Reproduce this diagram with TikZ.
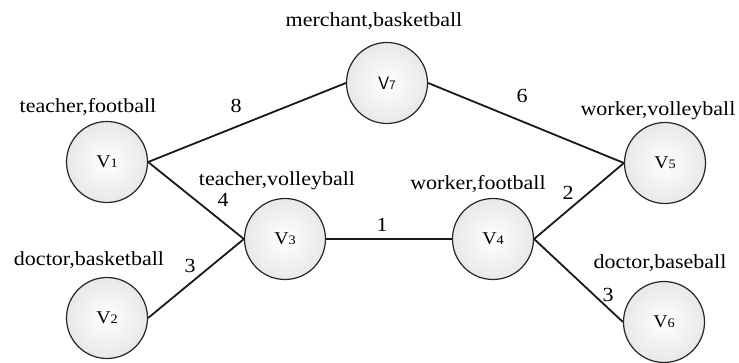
\documentclass[tikz,border=0pt]{standalone}
\usepackage{fontspec}
\setmainfont[FakeStretch=1.1]{Liberation Serif}
\begin{document}
\begin{tikzpicture}[x=1pt,y=-1pt,
  vtx/.style={circle,draw=black!85,line width=1.2pt,minimum size=81pt,inner sep=0pt,
    shade,inner color=white,outer color=black!9,font=\fontsize{18}{18}\selectfont},
  lab/.style={font=\fontsize{20}{20}\selectfont,inner sep=0pt,anchor=base},
  edge/.style={line width=1.8pt,black!90},
  wt/.style={font=\fontsize{20}{20}\selectfont,inner sep=0pt,anchor=base}]
\useasboundingbox (0,0) rectangle (739,363);
\newcommand{\dg}[1]{{\fontsize{13}{13}\selectfont #1}}
\node[vtx] (v1) at (107,162) {V\dg{1}};
\node[vtx] (v2) at (107,318) {V\dg{2}};
\node[vtx] (v3) at (285,239) {V\dg{3}};
\node[vtx] (v4) at (493,239) {V\dg{4}};
\node[vtx] (v5) at (665,163) {V\dg{5}};
\node[vtx] (v6) at (664,322) {V\dg{6}};
\node[vtx] (v7) at (387,83) {\sffamily V\dg{7}};
\draw[edge] (v1.east) -- (v7.west);
\draw[edge] (v7.east) -- (v5.west);
\draw[edge] (v1.east) -- (v3.west);
\draw[edge] (v2.east) -- (v3.west);
\draw[edge] (v3.east) -- (v4.west);
\draw[edge] (v4.east) -- (v5.west);
\draw[edge] (v4.east) -- (v6.west);
\node[lab] (l1) at (88,113) {teacher,football};
\node[lab] (l2) at (89,266) {doctor,basketball};
\node[lab] (l3) at (277,186) {teacher,volleyball};
\node[lab] (l7) at (374,27) {merchant,basketball};
\node[lab] (l5) at (658,116) {worker,volleyball};
\node[lab] (l4) at (478,190) {worker,football};
\node[lab] (l6) at (660,269) {doctor,baseball};
\node[wt] (w8) at (236,113) {8};
\node[wt] (w6) at (522,103) {6};
\node[wt] (w4) at (223,207) {4};
\node[wt] (w3a) at (190,273) {3};
\node[wt] (w1) at (382,232) {1};
\node[wt] (w2) at (568,200) {2};
\node[wt] (w3b) at (608,302) {3};
\end{tikzpicture}
\end{document}
